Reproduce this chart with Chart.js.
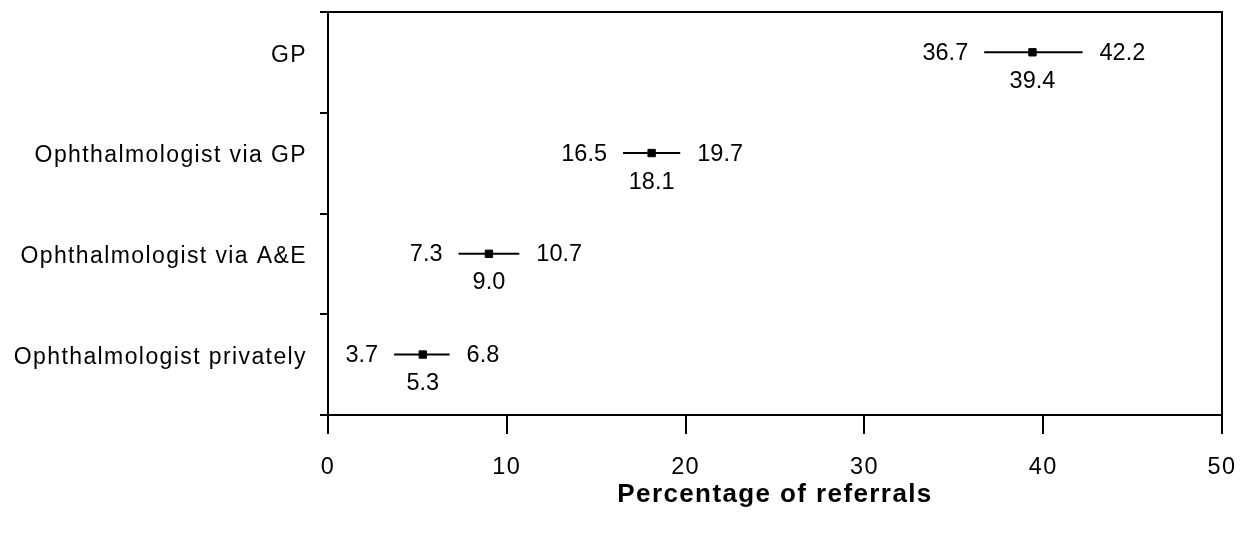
<!DOCTYPE html>
<html>
<head>
<meta charset="utf-8">
<script src="https://cdn.jsdelivr.net/npm/chart.js@4/dist/chart.umd.min.js"></script>
<style>
html,body{margin:0;padding:0;background:#fff;}
#wrap{width:1253px;height:534px;position:relative;}
</style>
</head>
<body>
<div id="wrap"><canvas id="c"></canvas></div>
<script>
// ---- data ----
const categories = ["GP", "Ophthalmologist via GP", "Ophthalmologist via A&E", "Ophthalmologist privately"];
const means = [39.4, 18.1, 9.0, 5.3];
const lows  = [36.7, 16.5, 7.3, 3.7];
const highs = [42.2, 19.7, 10.7, 6.8];
const xTicks = [0, 10, 20, 30, 40, 50];
const xTitle = "Percentage of referrals";

// ---- layout helpers ----
const ROW_OFFSET = 0.4;      // point position inside each category band
const LABEL_OFFSET = 0.43;   // category label position inside each band
const FONT = "'Liberation Sans', Arial, sans-serif";

Chart.defaults.font.family = FONT;
Chart.defaults.color = '#000';

const datasets = [];
categories.forEach((c, i) => {
  datasets.push({
    label: c,
    data: [{x: lows[i], y: i + ROW_OFFSET}, {x: highs[i], y: i + ROW_OFFSET}],
    showLine: true,
    borderColor: '#000',
    borderWidth: 2,
    pointRadius: 0,
    pointHoverRadius: 0
  });
});
datasets.push({
  label: 'mean',
  data: means.map((m, i) => ({x: m, y: i + ROW_OFFSET})),
  pointStyle: 'rect',
  pointRadius: 5.2,
  borderWidth: 1,
  borderColor: '#000',
  backgroundColor: '#000'
});

const spacingPlugin = {
  id: 'spacing',
  beforeDraw(chart) { chart.ctx.letterSpacing = '1.4px'; },
  beforeDatasetsDraw(chart) { chart.ctx.letterSpacing = '0px'; }
};

const valueLabels = {
  id: 'valueLabels',
  afterDatasetsDraw(chart) {
    const ctx = chart.ctx;
    const xs = chart.scales.x, ys = chart.scales.y;
    ctx.save();
    ctx.letterSpacing = '0px';
    ctx.fillStyle = '#000';
    ctx.font = '23.5px ' + FONT;
    ctx.textBaseline = 'middle';
    categories.forEach((c, i) => {
      const y = ys.getPixelForValue(i + ROW_OFFSET);
      ctx.textAlign = 'right';
      ctx.fillText(lows[i].toFixed(1), xs.getPixelForValue(lows[i]) - 16, y + 1);
      ctx.textAlign = 'left';
      ctx.fillText(highs[i].toFixed(1), xs.getPixelForValue(highs[i]) + 17, y + 1);
      ctx.textAlign = 'center';
      ctx.fillText(means[i].toFixed(1), xs.getPixelForValue(means[i]), y + 29);
    });
    ctx.restore();
  }
};

function noPad(s) { s.paddingTop = 0; s.paddingBottom = 0; s.paddingLeft = 0; s.paddingRight = 0; }

new Chart(document.getElementById('c'), {
  type: 'scatter',
  data: { datasets },
  plugins: [spacingPlugin, valueLabels],
  options: {
    responsive: true,
    maintainAspectRatio: false,
    animation: false,
    events: [],
    layout: { padding: { top: 12, right: 31, left: 0, bottom: 0 } },
    plugins: { legend: { display: false }, tooltip: { enabled: false } },
    scales: {
      x: {
        type: 'linear',
        position: 'bottom',
        min: 0, max: 50,
        afterBuildTicks: s => { s.ticks = xTicks.map(v => ({value: v})); },
        afterFit: s => { s.height = 119; noPad(s); },
        grid: { drawOnChartArea: false, tickLength: 19, color: '#000', lineWidth: 2 },
        border: { display: true, color: '#000', width: 2 },
        ticks: { font: { size: 23.5 }, padding: 19, maxRotation: 0, autoSkip: false },
        title: { display: true, text: xTitle, font: { size: 26, weight: 'bold' }, padding: { top: 0, bottom: 24 } }
      },
      y: {
        type: 'linear',
        position: 'left',
        min: 0, max: 4,
        reverse: true,
        afterBuildTicks: s => {
          const t = [];
          for (let i = 0; i <= categories.length; i++) {
            t.push({value: i});
            if (i < categories.length) t.push({value: i + LABEL_OFFSET});
          }
          s.ticks = t;
        },
        afterFit: s => { s.width = 328; noPad(s); },
        grid: {
          drawOnChartArea: false,
          tickLength: 8,
          lineWidth: 2,
          color: c => (c.tick && Number.isInteger(c.tick.value)) ? '#000' : 'rgba(0,0,0,0)'
        },
        border: { display: true, color: '#000', width: 2 },
        ticks: {
          autoSkip: false,
          font: { size: 23 },
          padding: 13,
          callback: v => Number.isInteger(v) ? '' : categories[Math.floor(v)]
        }
      },
      x2: {
        type: 'linear',
        position: 'top',
        min: 0, max: 50,
        afterFit: s => { s.height = 0; noPad(s); },
        grid: { display: false },
        ticks: { display: false },
        border: { display: true, color: '#000', width: 2 }
      },
      y2: {
        type: 'linear',
        position: 'right',
        min: 0, max: 4,
        afterFit: s => { s.width = 0; noPad(s); },
        grid: { display: false },
        ticks: { display: false },
        border: { display: true, color: '#000', width: 2 }
      }
    }
  }
});
</script>
</body>
</html>
